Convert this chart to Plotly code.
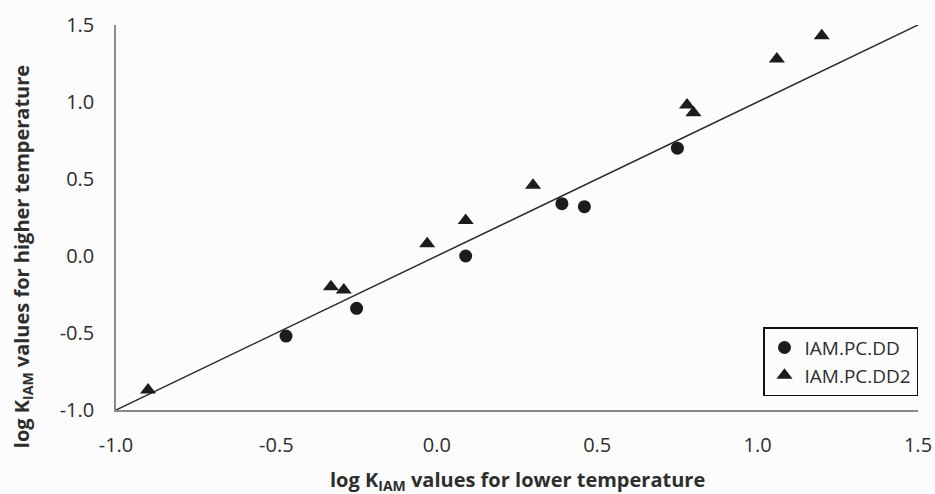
import plotly.graph_objects as go

# IAM.PC.DD (circles)
dd_x = [-0.47, -0.25, 0.09, 0.39, 0.46, 0.75]
dd_y = [-0.52, -0.34, 0.00, 0.34, 0.32, 0.70]

# IAM.PC.DD2 (triangles)
dd2_x = [-0.90, -0.33, -0.29, -0.03, 0.09, 0.30, 0.78, 0.80, 1.06, 1.20]
dd2_y = [-0.87, -0.20, -0.22, 0.08, 0.23, 0.46, 0.98, 0.93, 1.28, 1.43]

# reference line y = x
line_x = [-1.0, 1.5]
line_y = [-1.0, 1.5]

tick_vals = [-1.0, -0.5, 0.0, 0.5, 1.0, 1.5]
tick_text = ["-1.0", "-0.5", "0.0", "0.5", "1.0", "1.5"]

x_title = "<b>log K<sub>IAM</sub> values for lower temperature</b>"
y_title = "<b>log K<sub>IAM</sub> values for higher temperature</b>"

font_family = "Open Sans, Lato, sans-serif"
text_color = "#2e2e2e"
mark_color = "#1c1c1c"
bg = "#fcfcfc"

fig = go.Figure()
fig.add_trace(go.Scatter(x=line_x, y=line_y, mode="lines",
                         line=dict(color="#2a2a2a", width=1.5),
                         showlegend=False, hoverinfo="skip"))
fig.add_trace(go.Scatter(x=dd_x, y=dd_y, mode="markers", name="IAM.PC.DD",
                         marker=dict(symbol="circle", size=13, color=mark_color)))
fig.add_trace(go.Scatter(x=dd2_x, y=dd2_y, mode="markers", name="IAM.PC.DD2",
                         marker=dict(symbol="triangle-up", size=14, color=mark_color)))

axis_common = dict(
    tickvals=tick_vals, ticktext=tick_text,
    showgrid=False, zeroline=False, automargin=False,
    showline=True, linecolor="#8a8a8a", linewidth=1.5,
    ticks="outside", ticklen=16, tickcolor="rgba(0,0,0,0)",
    tickfont=dict(family=font_family, size=20, color=text_color),
)

fig.update_layout(
    width=935, height=494,
    margin=dict(l=116, r=17, t=25, b=84),
    paper_bgcolor=bg, plot_bgcolor=bg,
    font=dict(family=font_family, color=text_color),
    xaxis=dict(range=[-1.0, 1.5], **axis_common),
    yaxis=dict(range=[-1.0, 1.5], **axis_common),
    legend=dict(x=1.0, y=0.036, xanchor="right", yanchor="bottom",
                bordercolor="#111111", borderwidth=1.5, bgcolor=bg,
                font=dict(family=font_family, size=19, color=text_color),
                itemwidth=30, tracegroupgap=0),
    showlegend=True,
    annotations=[
        dict(text=x_title, xref="paper", yref="paper", x=0.501, y=-0.184,
             xanchor="center", yanchor="middle", showarrow=False,
             font=dict(family=font_family, size=20, color=text_color)),
        dict(text=y_title, xref="paper", yref="paper", x=-0.1172, y=0.397,
             xanchor="center", yanchor="middle", showarrow=False, textangle=-90,
             font=dict(family=font_family, size=20, color=text_color)),
    ],
)

fig.write_html("out.html", config={"displayModeBar": False},
               post_script="document.body.style.margin='0';document.body.style.overflow='hidden';")
